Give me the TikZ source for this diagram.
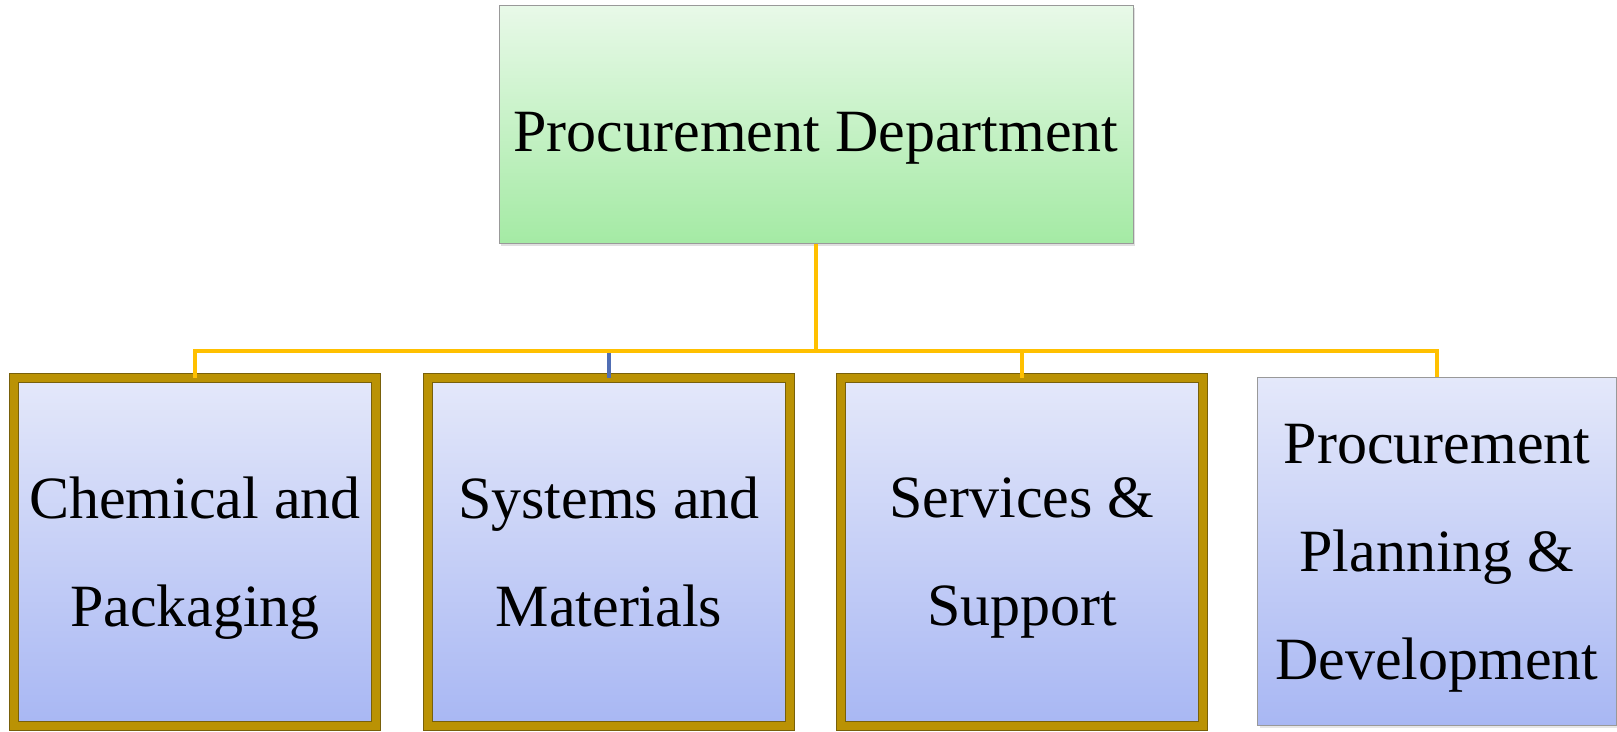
\documentclass[tikz,border=0pt]{standalone}
\usepackage{fontspec}
\setmainfont{Liberation Serif}
\usetikzlibrary{shadows}

\definecolor{linkyellow}{RGB}{255,192,0}
\definecolor{linkblue}{RGB}{80,110,180}
\definecolor{goldrim}{RGB}{186,146,4}
\definecolor{goldedge}{RGB}{120,96,10}
\definecolor{greentop}{RGB}{232,249,232}
\definecolor{greenbot}{RGB}{164,234,164}
\definecolor{bluetop}{RGB}{228,232,250}
\definecolor{bluebot}{RGB}{168,183,243}

\begin{document}
\begin{tikzpicture}[x=0.5pt, y=0.5pt,
    box/.style={rectangle, inner sep=0pt, align=center, text depth=0pt,
        font=\fontsize{30}{54}\selectfont},
    dept/.style={box, draw=gray!80, line width=0.5pt,
        execute at begin node={\rule{0pt}{27pt}},
        top color=greentop, bottom color=greenbot,
        minimum width=317pt, minimum height=119pt,
        drop shadow={opacity=0.25, shadow xshift=1pt, shadow yshift=-1.2pt}},
    unit/.style={box, execute at begin node={\rule{0pt}{41pt}},
        top color=bluetop, bottom color=bluebot,
        minimum width=181pt, minimum height=174pt},
    goldunit/.style={unit, draw=goldedge, line width=0.4pt,
        double=goldrim, double distance=4pt},
    plainunit/.style={unit, draw=gray!80, line width=0.5pt,
        minimum width=179.5pt,
        drop shadow={opacity=0.2, shadow xshift=1pt, shadow yshift=-1pt}},
    link/.style={line width=2pt, draw=linkyellow, line join=miter,
        to path={-- ++(0,-107) -| (\tikztotarget)}}
]
        \useasboundingbox (0,0) rectangle (1617,732);

        \node[dept] at (816, 607)(dept){Procurement Department};

        \node[goldunit] at (195, 180)(chem){Chemical and\\Packaging};
        \node[goldunit] at (609, 180)(sys){Systems and\\Materials};
        \node[goldunit] at (1022, 180)(serv){Services \&\\Support};
        \node[plainunit] at (1437, 180)(plan){Procurement\\Planning \&\\Development};

        \path[link, draw=linkblue]
        (dept.south)edge(sys.north)
        ;
        \path[link]
        (dept.south)edge(chem.north)
        (dept.south)edge(serv.north)
        (dept.south)edge(plan.north)
        ;
    \end{tikzpicture}
\end{document}
